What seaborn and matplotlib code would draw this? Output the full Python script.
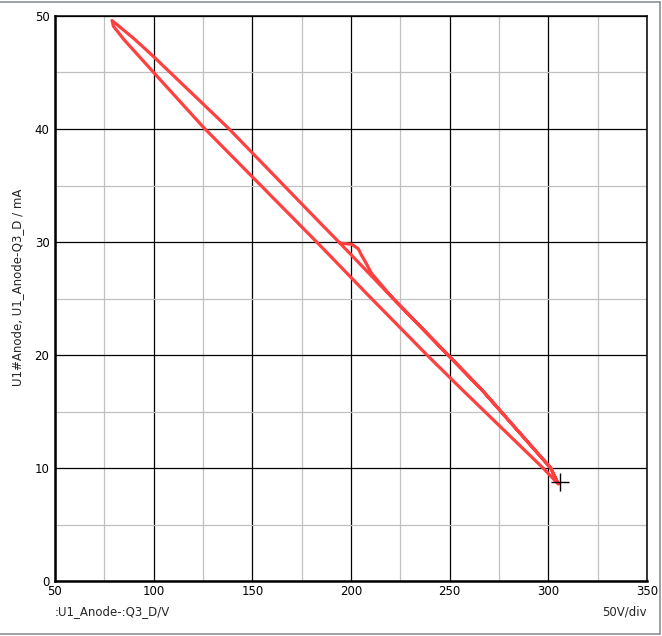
import matplotlib
matplotlib.use('Agg')
import matplotlib.pyplot as plt
from matplotlib.lines import Line2D
from matplotlib.ticker import MultipleLocator
import seaborn as sns
import pandas as pd

# trace of the load line loop (V, mA), in the order the scope drew it
v_trace = [194.4, 200.4, 203.7, 205.4, 207.1, 210.5, 220.8, 249.7, 266.4, 283.0, 301.2, 305.0,
           297.3, 256.5, 238.5, 208.1, 184.3, 125.5, 100.0, 85.0, 79.6, 78.9,
           90.0, 100.0, 137.7, 184.3, 194.4, 220.8, 249.7, 266.4, 283.0, 301.2, 305.0]
i_trace = [29.9, 29.8, 29.4, 28.8, 28.3, 27.2, 25.1, 19.9, 16.9, 13.6, 10.0, 8.6,
           10.0, 16.9, 20.0, 25.4, 29.7, 40.1, 45.0, 47.9, 49.1, 49.6,
           48.0, 46.4, 40.1, 31.7, 29.9, 25.1, 19.9, 16.9, 13.6, 10.0, 8.6]

cursor_v = [306.0]
cursor_i = [8.75]

x_label = ':U1_Anode-:Q3_D/V'
y_label = 'U1#Anode, U1_Anode-Q3_D / mA'
div_label = '50V/div'

df = pd.DataFrame({'step': range(len(v_trace)), 'V': v_trace, 'I': i_trace})
cur = pd.DataFrame({'V': cursor_v, 'I': cursor_i})

sns.set_style('white')
plt.rcParams['font.family'] = ['DejaVu Sans']

fig = plt.figure(figsize=(6.62, 6.36), dpi=100)
ax = fig.add_axes([55 / 662, 1 - 581 / 636, 592 / 662, 565 / 636])

ax.set_xlim(50, 350)
ax.set_ylim(0, 50)
ax.xaxis.set_major_locator(MultipleLocator(50))
ax.xaxis.set_minor_locator(MultipleLocator(25))
ax.yaxis.set_major_locator(MultipleLocator(10))
ax.yaxis.set_minor_locator(MultipleLocator(5))
ax.grid(which='minor', color='#c0c0c0', lw=0.9)
ax.grid(which='major', color='black', lw=0.9)
ax.set_axisbelow(True)

sns.lineplot(data=df, x='V', y='I', sort=False, estimator=None, ax=ax,
             color='#ff4040', lw=2.3, legend=False,
             solid_joinstyle='round', solid_capstyle='round')
sns.scatterplot(data=cur, x='V', y='I', marker='+', s=180, color='black',
                linewidth=1.0, ax=ax, zorder=5)

for side in ['left', 'bottom']:
    ax.spines[side].set_linewidth(1.8)
for side in ['top', 'right']:
    ax.spines[side].set_linewidth(1.1)
for s in ax.spines.values():
    s.set_color('black')

ax.tick_params(which='both', length=0, labelsize=8.5, colors='black')
ax.tick_params(axis='y', pad=4)
ax.tick_params(axis='x', pad=3)

ax.set_xlabel('')
ax.set_ylabel(y_label, fontsize=8.5)
ax.yaxis.set_label_coords(-0.052, 0.52)

fig.text(55 / 662, 1 - 612 / 636, x_label, fontsize=8.5, va='center', ha='left')
fig.text(647 / 662, 1 - 612 / 636, div_label, fontsize=8.5, va='center', ha='right')

# grey window frame
frame_c = '#8a9199'
fig.add_artist(Line2D([0, 660 / 662], [1 - 2 / 636, 1 - 2 / 636], color=frame_c, lw=1.2, transform=fig.transFigure))
fig.add_artist(Line2D([660 / 662, 660 / 662], [1 - 634 / 636, 1 - 2 / 636], color=frame_c, lw=1.2, transform=fig.transFigure))
fig.add_artist(Line2D([0, 660 / 662], [1 - 634 / 636, 1 - 634 / 636], color=frame_c, lw=1.2, transform=fig.transFigure))

fig.savefig('out.png', dpi=100)
